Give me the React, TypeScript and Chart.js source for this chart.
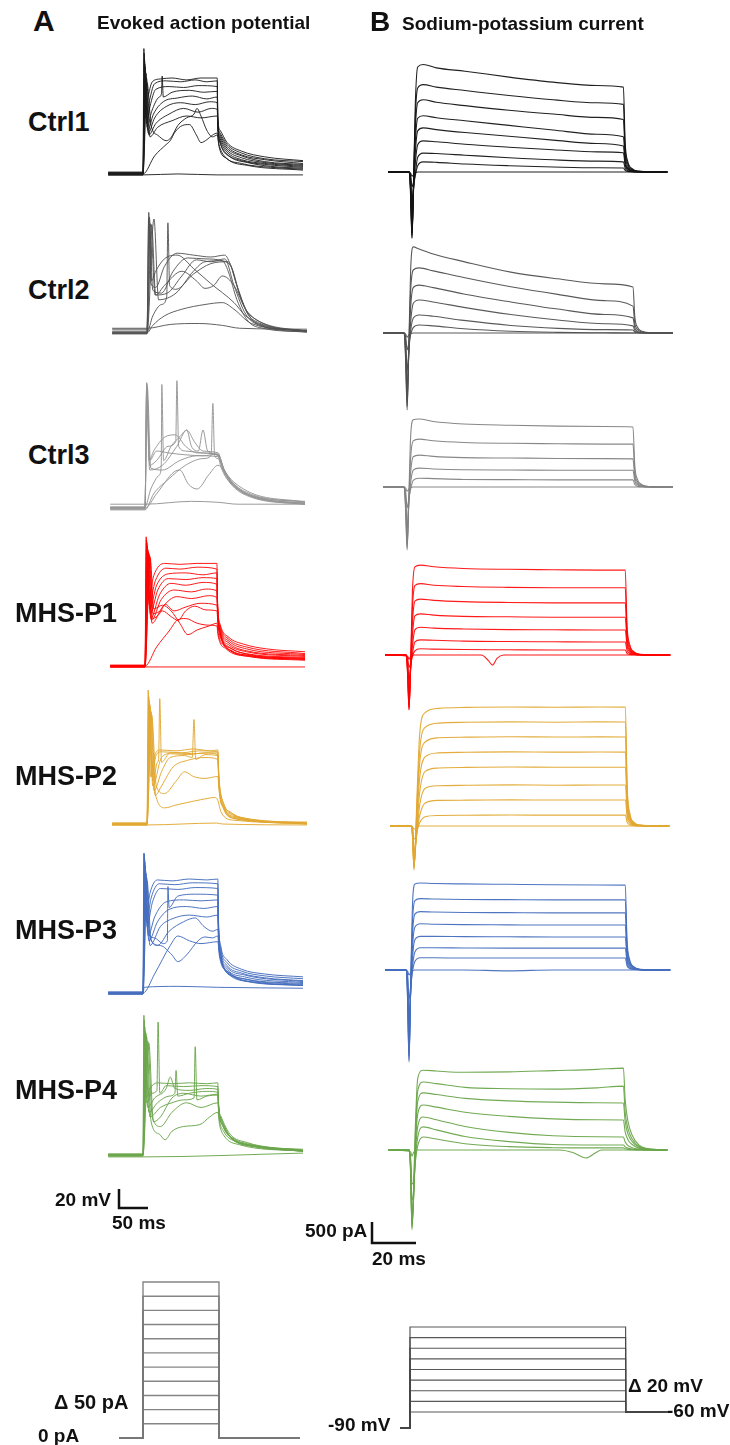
import React, { useEffect, useRef } from "react";
import { Chart, registerables } from "chart.js";
Chart.register(...registerables);

type Pt = [number, number];

// ================= DATA =================
// Column A: evoked action potentials, [time ms from step onset, membrane potential mV]
const ctrl1Ap: Pt[][] = [
  [[-60, -72], [0, -72], [60, -71], [128, -72], [276, -72]],
  [[-60, -70], [0, -70], [1.5, 61], [4, -5], [8, 8], [16, 26], [30, 29], [50, 30], [75, 28], [100, 30], [128, 30], [129, -12], [133, -25], [145, -38], [170, -47], [210, -53], [276, -57]],
  [[-60, -72], [0, -72], [2, 56], [5, -12], [10, 3], [20, 24], [40, 27], [65, 26], [90, 28], [110, 26], [128, 27], [129, -14], [133, -28], [145, -40], [170, -49], [210, -55], [276, -58]],
  [[-60, -69], [0, -69], [2.5, 50], [6, -18], [12, 0], [22, 18], [45, 21], [70, 20], [95, 22], [128, 21], [129, -16], [133, -30], [145, -42], [170, -51], [210, -56], [276, -60]],
  [[-60, -71], [0, -71], [3, 45], [7, -22], [15, -5], [28, 10], [32, 14], [33, 32], [35, 10], [50, 15], [80, 17], [105, 15], [128, 16], [129, -18], [133, -32], [145, -44], [170, -52], [210, -58], [276, -61]],
  [[-60, -70], [0, -70], [3.5, 42], [8, -25], [18, -8], [35, 5], [60, 9], [85, 11], [110, 8], [128, 10], [129, -20], [133, -34], [145, -46], [170, -54], [210, -59], [276, -62]],
  [[-60, -72], [0, -72], [4, 38], [9, -28], [20, -12], [40, 0], [65, 4], [90, 2], [115, 5], [128, 4], [129, -22], [133, -36], [145, -48], [170, -56], [210, -60], [276, -63]],
  [[-60, -70], [0, -70], [5, 35], [10, -30], [22, -18], [45, -8], [70, -2], [95, -6], [118, -2], [128, -3], [129, -24], [133, -38], [145, -50], [170, -57], [210, -61], [276, -64]],
  [[-60, -71], [0, -71], [6, 30], [12, -32], [25, -22], [50, -15], [75, -10], [100, -12], [128, -10], [130, -28], [135, -42], [150, -53], [180, -59], [220, -63], [276, -65]],
  [[-60, -70], [0, -70], [7, 25], [14, -20], [25, -30], [40, -36], [48, -33], [60, -20], [75, -12], [88, -8], [93, -2], [100, -10], [110, -25], [120, -32], [128, -30], [131, -40], [140, -52], [170, -60], [220, -64], [276, -66]],
  [[-60, -71], [0, -71], [20, -52], [40, -40], [47, -36], [55, -27], [68, -20], [80, -19], [92, -30], [100, -38], [110, -35], [120, -30], [128, -28], [131, -42], [145, -55], [180, -62], [276, -67]],
];

const ctrl2Ap: Pt[][] = [
  [[-60, -65], [0, -65], [40, -61], [90, -60], [130, -62], [160, -65], [276, -66]],
  [[-60, -70], [0, -70], [3, 57], [7, -18], [15, -22], [30, 0], [52, 14], [80, 12], [110, 10], [134, 12], [145, 0], [160, -30], [180, -55], [200, -63], [230, -67], [276, -69]],
  [[-60, -68], [0, -68], [4, 52], [10, -25], [25, -28], [45, -5], [70, 9], [100, 8], [130, 6], [140, -5], [155, -35], [175, -58], [200, -65], [276, -69]],
  [[-60, -66], [0, -66], [6, 45], [14, -30], [35, -28], [60, -10], [85, 7], [110, 5], [134, 8], [150, -20], [170, -50], [195, -62], [276, -68]],
  [[-60, -70], [0, -70], [12, 50], [20, -35], [50, -28], [80, -5], [100, 5], [125, 6], [145, 0], [160, -30], [180, -55], [276, -68]],
  [[-60, -69], [0, -69], [10, -52], [25, -40], [34, -32], [36, 46], [39, -20], [50, -24], [80, -8], [110, 3], [140, 5], [155, -20], [175, -50], [276, -68]],
  [[-60, -70], [0, -70], [3, 50], [8, -15], [15, -5], [30, 8], [52, 12], [80, -2], [110, -18], [150, -38], [170, -52], [200, -62], [276, -68]],
  [[-60, -71], [0, -71], [8, 44], [15, -30], [30, -20], [60, -5], [85, -15], [100, -23], [115, -20], [130, -10], [150, -20], [170, -45], [200, -60], [276, -68]],
  [[-60, -70], [0, -70], [10, -62], [30, -52], [60, -45], [100, -40], [130, -38], [150, -45], [180, -60], [276, -68]],
];

const ctrl3Ap: Pt[][] = [
  [[-60, -66], [0, -66], [80, -63], [126, -64], [160, -66], [276, -66]],
  [[-60, -70], [0, -70], [3, 62], [7, -20], [15, -10], [35, 5], [52, 7], [70, -5], [90, -12], [126, -14], [130, -25], [150, -45], [180, -57], [220, -63], [276, -66]],
  [[-60, -71], [0, -71], [3, 60], [8, -25], [20, -20], [40, -5], [53, 0], [55, 64], [58, -5], [70, -10], [100, -12], [126, -15], [135, -30], [160, -50], [200, -60], [276, -65]],
  [[-60, -69], [0, -69], [10, -50], [25, -35], [28, -25], [29, 60], [32, -20], [45, -5], [60, 5], [72, 12], [85, 0], [100, -10], [126, -12], [135, -28], [170, -52], [276, -64]],
  [[-60, -70], [0, -70], [3, 55], [8, -30], [30, -25], [55, -5], [72, 12], [80, -5], [92, -10], [100, 12], [108, -10], [126, -14], [140, -35], [180, -57], [276, -65]],
  [[-60, -72], [0, -72], [15, -55], [40, -40], [70, -25], [100, -18], [114, -15], [117, 40], [120, -15], [126, -18], [140, -38], [180, -58], [276, -66]],
  [[-60, -70], [0, -70], [20, -55], [50, -32], [60, -30], [75, -45], [90, -50], [110, -35], [126, -25], [150, -45], [200, -60], [276, -65]],
  [[-60, -71], [0, -71], [3, 60], [8, -20], [20, -10], [40, -12], [70, -14], [100, -15], [126, -13], [135, -28], [170, -50], [276, -64]],
  [[-60, -69], [0, -69], [4, 57], [10, -28], [30, -30], [60, -20], [90, -15], [126, -16], [140, -35], [190, -58], [276, -63]],
];

const mhsP1Ap: Pt[][] = [
  [[-60, -71], [0, -71], [276, -71]],
  [[-60, -70], [0, -70], [2, 66], [6, 0], [15, 25], [34, 38], [60, 37], [90, 38], [124, 38], [125, 0], [130, -27], [145, -40], [170, -47], [210, -52], [276, -55]],
  [[-60, -71], [0, -71], [2.5, 63], [7, -5], [18, 20], [36, 33], [60, 32], [90, 34], [124, 32], [125, -3], [130, -29], [145, -42], [175, -50], [276, -57]],
  [[-60, -70], [0, -70], [3, 60], [8, -10], [20, 15], [40, 27], [70, 28], [100, 26], [124, 28], [125, -5], [130, -31], [145, -44], [175, -52], [276, -58]],
  [[-60, -69], [0, -69], [3.5, 57], [9, -15], [22, 10], [40, 22], [70, 21], [100, 23], [124, 22], [125, -8], [130, -33], [145, -46], [175, -54], [276, -59]],
  [[-60, -70], [0, -70], [4, 55], [10, -20], [25, 5], [45, 17], [70, 15], [100, 18], [124, 16], [125, -10], [130, -35], [145, -48], [175, -55], [276, -60]],
  [[-60, -71], [0, -71], [5, 52], [11, -22], [28, 0], [50, 10], [80, 8], [105, 11], [124, 9], [125, -13], [130, -37], [145, -50], [175, -57], [276, -61]],
  [[-60, -70], [0, -70], [6, 50], [12, -25], [30, -8], [55, 3], [80, 1], [110, 4], [124, 2], [126, -18], [132, -40], [150, -52], [180, -58], [276, -62]],
  [[-60, -70], [0, -70], [7, 48], [13, -20], [25, -15], [35, -5], [50, -12], [70, -8], [95, -4], [124, -6], [126, -22], [132, -42], [150, -54], [180, -59], [276, -62]],
  [[-60, -71], [0, -71], [8, 46], [14, -15], [30, -12], [45, -18], [57, -22], [70, -12], [86, -7], [105, -11], [124, -12], [126, -28], [133, -44], [150, -55], [180, -60], [276, -63]],
  [[-60, -70], [0, -70], [9, 44], [15, -10], [30, -6], [45, -12], [60, -25], [74, -37], [90, -32], [110, -28], [124, -25], [126, -35], [140, -50], [180, -59], [276, -63]],
  [[-60, -70], [0, -70], [20, -50], [43, -32], [55, -22], [70, -20], [90, -25], [110, -27], [124, -28], [126, -38], [140, -52], [180, -60], [276, -64]],
];

const mhsP2Ap: Pt[][] = [
  [[-60, -71], [0, -71], [120, -69], [130, -70], [276, -71]],
  [[-60, -70], [0, -70], [2, 71], [6, -20], [12, 0], [22, 8], [50, 7], [80, 9], [110, 7], [122, 8], [124, -20], [130, -45], [145, -58], [170, -64], [210, -67], [276, -68]],
  [[-60, -71], [0, -71], [3, 64], [8, -20], [16, 3], [25, 6], [60, 5], [90, 7], [122, 6], [124, -22], [132, -48], [150, -60], [180, -65], [276, -69]],
  [[-60, -69], [0, -69], [3.5, 60], [10, -25], [18, -5], [20, -2], [22, 62], [25, -5], [40, 5], [80, 4], [122, 5], [124, -24], [132, -50], [150, -61], [180, -66], [276, -69]],
  [[-60, -70], [0, -70], [4, 58], [10, -30], [25, 0], [40, 4], [70, 3], [100, 5], [122, 3], [124, -26], [132, -52], [150, -62], [276, -70]],
  [[-60, -71], [0, -71], [5, 55], [12, -35], [25, -15], [40, 0], [65, 2], [78, 0], [81, 40], [84, -2], [100, 3], [122, 2], [124, -28], [132, -53], [150, -63], [276, -70]],
  [[-60, -70], [0, -70], [6, 50], [14, -40], [25, -30], [45, -10], [70, -3], [100, 0], [122, -2], [124, -30], [132, -54], [150, -64], [276, -69]],
  [[-60, -70], [0, -70], [7, 48], [15, -40], [31, -53], [50, -50], [80, -46], [105, -43], [117, -42], [122, -45], [128, -58], [150, -66], [276, -69]],
  [[-60, -69], [0, -69], [8, 45], [16, -30], [30, -38], [50, -25], [65, -15], [80, -20], [100, -22], [122, -20], [125, -38], [135, -56], [155, -65], [276, -69]],
];

const mhsP3Ap: Pt[][] = [
  [[-60, -71], [0, -71], [2, -64], [60, -63], [129, -64], [276, -65]],
  [[-60, -70], [0, -70], [1.5, 81], [5, 10], [12, 35], [25, 49], [50, 48], [80, 50], [110, 49], [129, 50], [130, 10], [134, -20], [145, -35], [170, -45], [210, -50], [276, -53]],
  [[-60, -71], [0, -71], [2, 76], [6, 5], [14, 30], [28, 45], [55, 44], [85, 46], [129, 45], [130, 6], [134, -23], [145, -38], [170, -47], [210, -52], [276, -55]],
  [[-60, -69], [0, -69], [2.5, 72], [7, 0], [16, 25], [30, 40], [60, 39], [90, 41], [129, 40], [130, 2], [134, -26], [145, -41], [170, -49], [210, -54], [276, -57]],
  [[-60, -70], [0, -70], [3, 68], [8, -5], [20, -12], [35, -18], [42, -15], [43, 42], [45, 20], [60, 32], [90, 34], [129, 33], [130, -2], [134, -29], [145, -43], [175, -51], [276, -58]],
  [[-60, -71], [0, -71], [3.5, 64], [9, -10], [20, 10], [40, 26], [70, 28], [100, 27], [129, 28], [130, -5], [134, -31], [145, -45], [175, -53], [276, -59]],
  [[-60, -70], [0, -70], [4, 60], [10, -15], [25, 5], [45, 18], [75, 21], [105, 19], [129, 21], [130, -8], [134, -33], [145, -47], [175, -55], [276, -60]],
  [[-60, -69], [0, -69], [5, 56], [12, -20], [30, 0], [50, 8], [80, 12], [110, 10], [129, 12], [131, -12], [136, -36], [150, -49], [180, -56], [276, -61]],
  [[-60, -70], [0, -70], [6, 52], [12, -10], [25, -20], [45, -5], [70, 5], [90, 9], [105, 0], [120, -5], [129, -3], [131, -20], [137, -40], [155, -52], [185, -58], [276, -62]],
  [[-60, -71], [0, -71], [7, 48], [14, -15], [30, -20], [50, -30], [60, -37], [75, -30], [95, -15], [107, -11], [120, -12], [129, -10], [131, -25], [138, -42], [160, -54], [200, -59], [276, -62]],
  [[-60, -70], [0, -70], [20, -50], [47, -20], [60, -10], [80, -15], [100, -18], [129, -16], [132, -32], [145, -48], [180, -58], [276, -62]],
];

const mhsP4Ap: Pt[][] = [
  [[-60, -72], [0, -72], [276, -68]],
  [[-60, -70], [0, -70], [1.5, 77], [5, -10], [12, 0], [25, 6], [50, 5], [80, 6], [110, 5], [129, 6], [130, -15], [135, -30], [150, -48], [180, -57], [220, -62], [276, -64]],
  [[-60, -71], [0, -71], [2, 72], [6, -15], [15, -5], [24, -2], [26, 70], [29, -5], [40, 3], [70, 2], [100, 3], [129, 2], [130, -17], [135, -32], [150, -50], [180, -58], [276, -65]],
  [[-60, -69], [0, -69], [3, 65], [8, -20], [20, -10], [40, 0], [47, 12], [55, 0], [80, -2], [110, 0], [129, -1], [130, -19], [136, -34], [150, -51], [180, -59], [276, -65]],
  [[-60, -70], [0, -70], [4, 60], [10, -25], [25, -15], [45, -8], [55, -5], [57, 19], [60, -8], [80, -5], [110, -3], [129, -4], [131, -22], [137, -37], [155, -53], [185, -60], [276, -66]],
  [[-60, -71], [0, -71], [5, 58], [12, -30], [30, -20], [50, -15], [70, -12], [88, -10], [90, 44], [93, -12], [110, -8], [129, -7], [131, -25], [138, -40], [155, -54], [190, -61], [276, -66]],
  [[-60, -70], [0, -70], [6, 55], [14, -35], [28, -48], [38, -54], [50, -45], [70, -40], [98, -38], [115, -30], [129, -25], [132, -38], [140, -50], [165, -59], [276, -66]],
  [[-60, -70], [0, -70], [8, 50], [16, -30], [30, -40], [50, -25], [75, -15], [100, -20], [129, -15], [131, -30], [139, -45], [160, -56], [200, -62], [276, -66]],
  [[-60, -69], [0, -69], [10, 48], [18, -35], [30, -30], [50, -10], [70, -5], [100, -8], [129, -6], [131, -24], [138, -40], [160, -54], [200, -61], [276, -65]],
];

// Column B: sodium-potassium currents on a shared time grid (ms from step onset), values in pA
const currentTimeMs = [-10, -0.4, 0.3, 0.9, 1.6, 2.4, 3.5, 6, 12, 25, 45, 65, 85, 97, 97.8, 99, 101, 104, 110, 117];

const ctrl1Currents: number[][] = [
  [0, 0, -30, -100, -60, -20, 0, 0, 0, 0, 0, 0, 0, 0, 0, 0, 0, 0, 0, 0],
  [0, 0, -80, -350, -250, -80, 150, 240, 230, 190, 150, 120, 100, 96, 40, 15, 5, 0, 0, 0],
  [0, 0, -150, -700, -400, -50, 350, 450, 440, 400, 340, 290, 260, 240, 90, 30, 10, 0, 0, 0],
  [0, 0, -250, -1100, -450, 200, 650, 740, 720, 660, 590, 530, 480, 460, 160, 60, 20, 5, 0, 0],
  [0, 0, -350, -1350, -400, 450, 980, 1050, 1010, 940, 850, 760, 680, 620, 210, 80, 25, 5, 0, 0],
  [0, 0, -400, -1450, -350, 700, 1280, 1340, 1290, 1220, 1110, 1000, 900, 840, 280, 100, 35, 10, 0, 0],
  [0, 0, -450, -1500, -300, 1000, 1650, 1720, 1660, 1580, 1470, 1380, 1300, 1250, 420, 150, 50, 10, 0, 0],
  [0, 0, -500, -1560, -250, 1300, 2000, 2080, 2020, 1940, 1820, 1720, 1650, 1610, 550, 200, 60, 15, 0, 0],
  [0, 0, -600, -1580, -300, 1600, 2500, 2560, 2480, 2400, 2260, 2140, 2060, 2020, 700, 250, 80, 20, 0, 0],
];

const ctrl2Currents: number[][] = [
  [0, 0, -30, -100, -50, -10, 0, 0, 0, 0, 0, 0, 0, 0, 0, 0, 0, 0, 0, 0],
  [0, 0, -100, -400, -250, -40, 130, 190, 170, 100, 40, 15, 5, 0, 0, 0, 0, 0, 0, 0],
  [0, 0, -200, -900, -450, 50, 350, 430, 400, 300, 180, 110, 80, 70, 25, 10, 0, 0, 0, 0],
  [0, 0, -350, -1300, -500, 250, 700, 785, 740, 610, 440, 310, 220, 170, 60, 20, 5, 0, 0, 0],
  [0, 0, -500, -1600, -450, 600, 1080, 1140, 1080, 930, 740, 570, 440, 360, 120, 40, 10, 0, 0, 0],
  [0, 0, -600, -1750, -400, 1000, 1500, 1550, 1480, 1320, 1100, 920, 770, 640, 220, 80, 25, 5, 0, 0],
  [0, 0, -700, -1830, -400, 1500, 2050, 2000, 1880, 1700, 1450, 1290, 1170, 1095, 380, 130, 40, 10, 0, 0],
];

const ctrl3Currents: number[][] = [
  [0, 0, -30, -100, -50, -10, 0, 0, 0, 0, 0, 0, 0, 0, 0, 0, 0, 0, 0, 0],
  [0, 0, -120, -500, -300, -50, 160, 210, 200, 180, 175, 170, 170, 170, 60, 20, 5, 0, 0, 0],
  [0, 0, -250, -1000, -400, 100, 400, 450, 430, 410, 405, 400, 400, 400, 140, 50, 15, 0, 0, 0],
  [0, 0, -400, -1350, -400, 350, 720, 760, 730, 700, 690, 680, 675, 670, 230, 80, 25, 5, 0, 0],
  [0, 0, -500, -1450, -350, 700, 1100, 1140, 1100, 1060, 1040, 1030, 1020, 1020, 350, 120, 40, 10, 0, 0],
  [0, 0, -600, -1500, -300, 1200, 1600, 1620, 1560, 1500, 1470, 1450, 1440, 1430, 500, 170, 50, 10, 0, 0],
];

const mhsP1Baseline: Pt[] = [[-10, 0], [0.3, -30], [0.9, -100], [1.6, -40], [3, 0], [33, 0], [36, -120], [38, -240], [40, -80], [43, 0], [117, 0]];
const mhsP1Currents: number[][] = [
  [0, 0, -80, -300, -200, -30, 100, 150, 140, 130, 125, 120, 120, 120, 40, 15, 5, 0, 0, 0],
  [0, 0, -150, -600, -300, 20, 310, 360, 350, 330, 320, 315, 310, 310, 110, 40, 10, 0, 0, 0],
  [0, 0, -250, -950, -350, 200, 600, 660, 640, 620, 605, 600, 595, 595, 210, 70, 20, 5, 0, 0],
  [0, 0, -350, -1150, -350, 450, 930, 980, 950, 920, 910, 900, 900, 900, 310, 110, 35, 5, 0, 0],
  [0, 0, -400, -1250, -300, 750, 1280, 1330, 1300, 1270, 1250, 1240, 1240, 1240, 430, 150, 45, 10, 0, 0],
  [0, 0, -450, -1300, -250, 1100, 1650, 1700, 1660, 1630, 1610, 1600, 1600, 1600, 560, 200, 60, 10, 0, 0],
  [0, 0, -500, -1310, -200, 1500, 2100, 2140, 2100, 2060, 2040, 2030, 2020, 2020, 700, 250, 70, 15, 0, 0],
];

const mhsP2Currents: number[][] = [
  [0, 0, -20, -80, -60, -20, 0, 0, 0, 0, 0, 0, 0, 0, 0, 0, 0, 0, 0, 0],
  [0, 0, -50, -300, -300, -100, 80, 220, 250, 255, 262, 258, 260, 260, 90, 30, 10, 0, 0, 0],
  [0, 0, -100, -600, -450, -100, 250, 550, 610, 615, 622, 618, 620, 620, 210, 70, 20, 5, 0, 0],
  [0, 0, -150, -800, -500, -50, 500, 900, 960, 970, 978, 972, 975, 975, 330, 110, 30, 5, 0, 0],
  [0, 0, -200, -900, -500, 100, 800, 1300, 1380, 1395, 1405, 1398, 1400, 1400, 470, 150, 40, 10, 0, 0],
  [0, 0, -250, -950, -450, 300, 1150, 1650, 1740, 1755, 1765, 1758, 1762, 1760, 590, 190, 50, 10, 0, 0],
  [0, 0, -250, -1000, -400, 500, 1500, 2000, 2100, 2115, 2125, 2118, 2122, 2120, 710, 230, 60, 15, 0, 0],
  [0, 0, -300, -1000, -350, 700, 1800, 2350, 2450, 2470, 2480, 2472, 2478, 2475, 830, 270, 70, 15, 0, 0],
  [0, 0, -300, -1050, -300, 900, 2200, 2700, 2800, 2825, 2835, 2828, 2832, 2830, 950, 300, 80, 20, 0, 0],
];

const mhsP3Currents: number[][] = [
  [0, 0, -30, -120, -60, -10, 0, 0, 0, 0, -20, 0, 0, 0, 0, 0, 0, 0, 0, 0],
  [0, 0, -120, -700, -400, -50, 200, 290, 290, 285, 285, 285, 285, 285, 100, 35, 10, 0, 0, 0],
  [0, 0, -250, -1200, -550, 50, 430, 530, 530, 525, 520, 520, 520, 520, 180, 60, 20, 5, 0, 0],
  [0, 0, -400, -1600, -600, 250, 720, 800, 800, 795, 790, 785, 785, 785, 270, 90, 30, 5, 0, 0],
  [0, 0, -500, -1900, -550, 500, 1020, 1100, 1090, 1080, 1075, 1070, 1070, 1070, 370, 130, 40, 10, 0, 0],
  [0, 0, -600, -2050, -500, 800, 1330, 1390, 1380, 1370, 1365, 1360, 1360, 1360, 470, 160, 50, 10, 0, 0],
  [0, 0, -700, -2150, -450, 1100, 1650, 1700, 1690, 1680, 1675, 1670, 1670, 1670, 580, 200, 60, 10, 0, 0],
  [0, 0, -800, -2190, -400, 1500, 2050, 2070, 2060, 2050, 2040, 2030, 2025, 2020, 700, 240, 70, 15, 0, 0],
];

const mhsP4Baseline: Pt[] = [[-10, 0], [0.3, -40], [0.9, -150], [1.6, -60], [3, 0], [68, 0], [74, -60], [80, -190], [84, -80], [87, 0], [117, 0]];
const mhsP4Currents: number[][] = [
  [0, 0, -200, -800, -800, -300, 100, 310, 260, 150, 80, 55, 50, 50, 30, 15, 5, 0, 0, 0],
  [0, 0, -300, -1200, -1000, -250, 300, 550, 480, 320, 200, 130, 120, 120, 75, 45, 20, 5, 0, 0],
  [0, 0, -400, -1500, -1150, -150, 550, 785, 720, 560, 420, 340, 315, 310, 190, 110, 55, 20, 0, 0],
  [0, 0, -450, -1700, -1200, 0, 850, 1070, 1020, 900, 800, 740, 720, 715, 430, 250, 130, 45, 5, 0],
  [0, 0, -500, -1800, -1150, 150, 1150, 1360, 1320, 1230, 1170, 1140, 1125, 1120, 680, 390, 200, 70, 10, 0],
  [0, 0, -550, -1850, -1100, 300, 1400, 1620, 1580, 1490, 1460, 1450, 1480, 1520, 900, 520, 260, 90, 15, 0],
  [0, 0, -600, -1900, -1000, 500, 1700, 1900, 1880, 1850, 1860, 1890, 1920, 1950, 1200, 700, 350, 120, 20, 0],
];

// Stimulus protocols
const injectedCurrentsPa = [550, 500, 450, 400, 350, 300, 250, 200, 150, 100, 50];
const currentStepMs = 131;
const stepVoltagesMv = [-60, -40, -20, 0, 20, 40, 60, 80, 100];
const holdingMv = -90;
const returnMv = -60;
const voltageStepMs = 98;

// Scale bars
const apScaleMv = 20;
const apScaleMs = 50;
const currentScalePa = 500;
const currentScaleMs = 20;

// ================= LAYOUT =================
const A_PX_PER_MS = 29 / 50;
const A_PX_PER_MV = 19 / 20;
const B_PX_PER_MS = 44 / 20;
const B_PX_PER_PA = 21 / 500;
const FONT = "'Liberation Sans', Arial, Helvetica, sans-serif";

type Series = {
  points: { x: number; y: number }[]; color: string; width: number; smooth: boolean;
  edgeColor?: string; edgeIndex?: number;
};

function Plot(props: {
  left: number; top: number; width: number; height: number;
  xMin: number; xMax: number; yMin: number; yMax: number; series: Series[];
}) {
  const ref = useRef<HTMLCanvasElement>(null);
  useEffect(() => {
    const chart = new Chart(ref.current as HTMLCanvasElement, {
      type: "line",
      data: {
        datasets: props.series.map((s) => ({
          data: s.points,
          borderColor: s.color,
          borderWidth: s.width,
          pointRadius: 0,
          fill: false,
          tension: 0,
          cubicInterpolationMode: s.smooth ? "monotone" : "default",
          segment: s.edgeColor
            ? { borderColor: (ctx: any) => (ctx.p0DataIndex === s.edgeIndex ? s.edgeColor : undefined) }
            : undefined,
        })) as any,
      },
      options: {
        animation: false,
        responsive: false,
        devicePixelRatio: 1,
        events: [],
        layout: { padding: 0 },
        plugins: { legend: { display: false }, tooltip: { enabled: false } },
        scales: {
          x: { type: "linear", min: props.xMin, max: props.xMax, display: false },
          y: { type: "linear", min: props.yMin, max: props.yMax, display: false },
        },
      } as any,
    });
    return () => chart.destroy();
  }, []);
  return (
    <canvas
      ref={ref}
      width={props.width}
      height={props.height}
      style={{ position: "absolute", left: props.left, top: props.top, width: props.width, height: props.height }}
    />
  );
}

const pairs = (p: Pt[]) => p.map(([x, y]) => ({ x, y }));
const grid = (ys: number[]) => ys.map((y, i) => ({ x: currentTimeMs[i], y }));

function ApPanel(p: { traces: Pt[][]; color: string; stepX: number; baseY: number }) {
  const left = p.stepX - 35, width = 195, top = p.baseY - 140, height = 160;
  return (
    <Plot
      left={left} top={top} width={width} height={height}
      xMin={(left - p.stepX) / A_PX_PER_MS} xMax={(left + width - p.stepX) / A_PX_PER_MS}
      yMin={-70 - (top + height - p.baseY) / A_PX_PER_MV} yMax={-70 + (p.baseY - top) / A_PX_PER_MV}
      series={p.traces.map((t) => ({ points: pairs(t), color: p.color, width: 1, smooth: true }))}
    />
  );
}

function CurrentPanel(p: { traces: number[][]; extra?: Pt[]; color: string; stepX: number; baseY: number; pxPerMs: number }) {
  const left = p.stepX - 22, width = 290, top = p.baseY - 125, height = 240;
  const series: Series[] = [];
  if (p.extra) series.push({ points: pairs(p.extra), color: p.color, width: 1.1, smooth: true });
  p.traces.forEach((t) => series.push({ points: grid(t), color: p.color, width: 1.1, smooth: true }));
  return (
    <Plot
      left={left} top={top} width={width} height={height}
      xMin={(left - p.stepX) / p.pxPerMs} xMax={(left + width - p.stepX) / p.pxPerMs}
      yMin={-(top + height - p.baseY) / B_PX_PER_PA} yMax={(p.baseY - top) / B_PX_PER_PA}
      series={series}
    />
  );
}

function Label(p: { text: string; x: number; capTop: number; size: number }) {
  return (
    <div
      style={{
        position: "absolute", left: p.x, top: p.capTop - 0.13 * p.size, fontSize: p.size,
        lineHeight: `${p.size}px`, fontWeight: 700, fontFamily: FONT, whiteSpace: "nowrap", color: "#111",
      }}
    >
      {p.text}
    </div>
  );
}

const apPanels = [
  { traces: ctrl1Ap, color: "rgba(25,25,25,0.9)", stepX: 143, baseY: 173 },
  { traces: ctrl2Ap, color: "rgba(80,80,80,0.9)", stepX: 147, baseY: 333 },
  { traces: ctrl3Ap, color: "rgba(150,150,150,0.95)", stepX: 145, baseY: 508 },
  { traces: mhsP1Ap, color: "rgba(255,0,0,0.9)", stepX: 145, baseY: 666 },
  { traces: mhsP2Ap, color: "rgba(226,168,50,0.95)", stepX: 147, baseY: 824 },
  { traces: mhsP3Ap, color: "rgba(70,110,190,0.95)", stepX: 143, baseY: 993 },
  { traces: mhsP4Ap, color: "rgba(106,165,75,0.95)", stepX: 143, baseY: 1155 },
];

const currentPanels = [
  { traces: ctrl1Currents, color: "rgba(20,20,20,0.95)", stepX: 410, baseY: 172, pxPerMs: B_PX_PER_MS },
  { traces: ctrl2Currents, color: "rgba(80,80,80,0.95)", stepX: 405, baseY: 333, pxPerMs: 2.35 },
  { traces: ctrl3Currents, color: "rgba(130,130,130,0.95)", stepX: 405, baseY: 487, pxPerMs: 2.35 },
  { traces: mhsP1Currents, extra: mhsP1Baseline, color: "rgba(255,0,0,0.9)", stepX: 407, baseY: 655, pxPerMs: 2.25 },
  { traces: mhsP2Currents, color: "rgba(226,168,50,0.95)", stepX: 412, baseY: 826, pxPerMs: B_PX_PER_MS },
  { traces: mhsP3Currents, color: "rgba(70,110,190,0.95)", stepX: 407, baseY: 970, pxPerMs: 2.25 },
  { traces: mhsP4Currents, extra: mhsP4Baseline, color: "rgba(106,165,75,0.95)", stepX: 410, baseY: 1150, pxPerMs: B_PX_PER_MS },
];

const labels = [
  { text: "A", x: 33, capTop: 10, size: 30 },
  { text: "Evoked action potential", x: 97, capTop: 15, size: 19 },
  { text: "B", x: 370, capTop: 12, size: 28 },
  { text: "Sodium-potassium current", x: 402, capTop: 16, size: 19 },
  { text: "Ctrl1", x: 28, capTop: 113, size: 27 },
  { text: "Ctrl2", x: 28, capTop: 281, size: 27 },
  { text: "Ctrl3", x: 28, capTop: 446, size: 27 },
  { text: "MHS-P1", x: 15, capTop: 604, size: 27 },
  { text: "MHS-P2", x: 15, capTop: 767, size: 27 },
  { text: "MHS-P3", x: 15, capTop: 921, size: 27 },
  { text: "MHS-P4", x: 15, capTop: 1081, size: 27 },
  { text: "20 mV", x: 55, capTop: 1192, size: 19 },
  { text: "50 ms", x: 112, capTop: 1215, size: 19 },
  { text: "500 pA", x: 305, capTop: 1223, size: 19 },
  { text: "20 ms", x: 372, capTop: 1251, size: 19 },
  { text: "Δ 50 pA", x: 54, capTop: 1395, size: 20 },
  { text: "0 pA", x: 38, capTop: 1428, size: 19 },
  { text: "Δ 20 mV", x: 628, capTop: 1378, size: 19 },
  { text: "-60 mV", x: 667, capTop: 1403, size: 19 },
  { text: "-90 mV", x: 328, capTop: 1417, size: 19 },
];

function CurrentProtocol() {
  const left = 108, width = 200, top = 1272, height = 173, zeroX = 143, zeroY = 1438;
  const pxPerPa = 156 / 550;
  const series: Series[] = injectedCurrentsPa.map((I) => ({
    points: pairs([[-41, 0], [0, 0], [0, I], [currentStepMs, I], [currentStepMs, 0], [270, 0]]),
    color: "rgba(120,120,120,0.9)", width: 1.4, smooth: false,
    edgeColor: I <= 200 ? "#111" : undefined, edgeIndex: 3,
  }));
  return (
    <Plot left={left} top={top} width={width} height={height}
      xMin={(left - zeroX) / A_PX_PER_MS} xMax={(left + width - zeroX) / A_PX_PER_MS}
      yMin={-(top + height - zeroY) / pxPerPa} yMax={(zeroY - top) / pxPerPa} series={series} />
  );
}

function VoltageProtocol() {
  const left = 390, width = 290, top = 1315, height = 125, zeroX = 410, zeroY = 1412;
  const pxPerMv = 85 / 160;
  const series: Series[] = stepVoltagesMv.map((V) => ({
    points: pairs([[-4.5, holdingMv], [0, holdingMv], [0, V], [voltageStepMs, V], [voltageStepMs, returnMv], [117, returnMv]]),
    color: "rgba(70,70,70,0.9)", width: 1.2, smooth: false,
  }));
  return (
    <Plot left={left} top={top} width={width} height={height}
      xMin={(left - zeroX) / B_PX_PER_MS} xMax={(left + width - zeroX) / B_PX_PER_MS}
      yMin={returnMv - (top + height - zeroY) / pxPerMv} yMax={returnMv + (zeroY - top) / pxPerMv} series={series} />
  );
}

function ScaleBar(p: { ox: number; oy: number; vUnits: number; hUnits: number; pxPerX: number; pxPerY: number }) {
  const left = p.ox - 5, top = p.oy - p.vUnits * p.pxPerY - 5;
  const width = p.hUnits * p.pxPerX + 10, height = p.vUnits * p.pxPerY + 10;
  return (
    <Plot left={left} top={top} width={width} height={height}
      xMin={(left - p.ox) / p.pxPerX} xMax={(left + width - p.ox) / p.pxPerX}
      yMin={-(top + height - p.oy) / p.pxPerY} yMax={(p.oy - top) / p.pxPerY}
      series={[{ points: pairs([[0, p.vUnits], [0, 0], [p.hUnits, 0]]), color: "#111", width: 2.5, smooth: false }]} />
  );
}

export default function App() {
  return (
    <div style={{ position: "absolute", left: 0, top: 0, width: 730, height: 1445, background: "#fff", overflow: "hidden" }}>
      {apPanels.map((p, i) => <ApPanel key={"a" + i} {...p} />)}
      {currentPanels.map((p, i) => <CurrentPanel key={"b" + i} {...p} />)}
      <CurrentProtocol />
      <VoltageProtocol />
      <ScaleBar ox={119} oy={1208} vUnits={apScaleMv} hUnits={apScaleMs} pxPerX={A_PX_PER_MS} pxPerY={A_PX_PER_MV} />
      <ScaleBar ox={372} oy={1243} vUnits={currentScalePa} hUnits={currentScaleMs} pxPerX={B_PX_PER_MS} pxPerY={B_PX_PER_PA} />
      {labels.map((l, i) => <Label key={"l" + i} {...l} />)}
    </div>
  );
}
